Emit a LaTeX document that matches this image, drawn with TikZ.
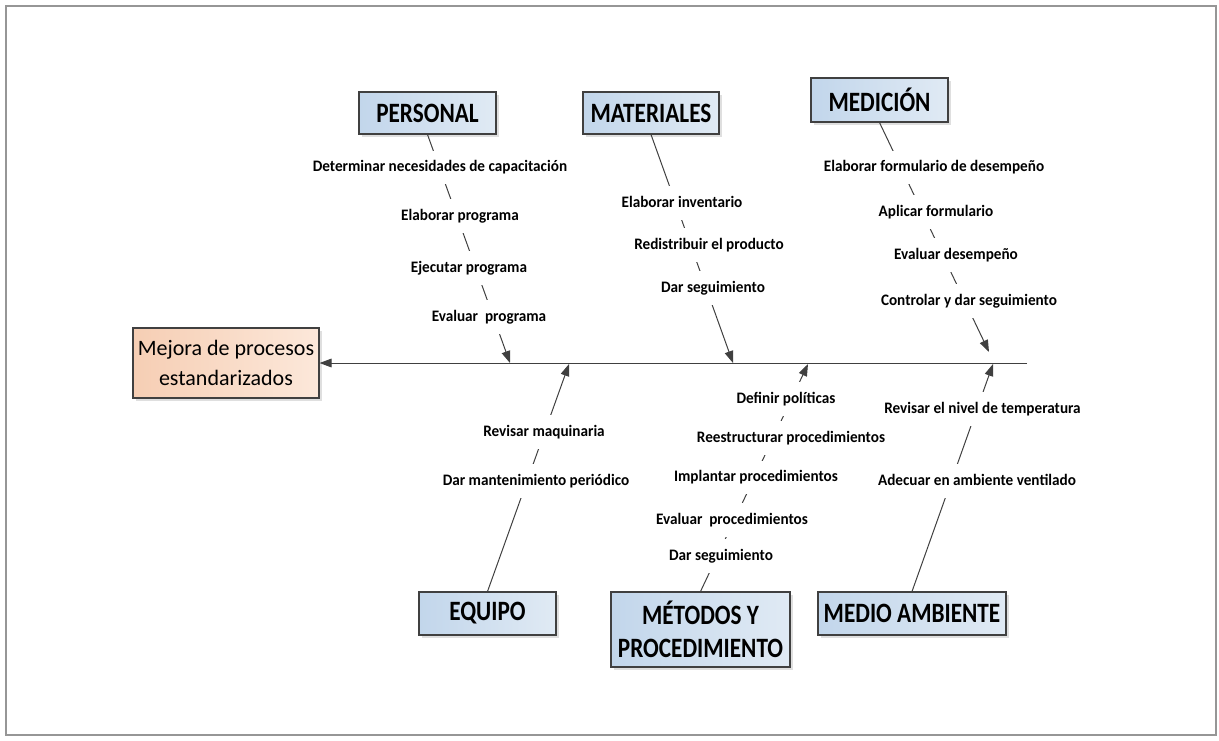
\documentclass[tikz,border=0pt]{standalone}
\usepackage{fontspec}
\setmainfont{Carlito}
\newfontfamily\titlefont[FakeStretch=0.83]{Carlito}
\newfontfamily\lblfont[FakeStretch=0.95]{Carlito}
\usetikzlibrary{arrows.meta,shadows}
\definecolor{boxL}{RGB}{194,214,235}
\definecolor{boxR}{RGB}{224,234,244}
\definecolor{headL}{RGB}{246,206,180}
\definecolor{headR}{RGB}{252,232,218}
\definecolor{ln}{RGB}{64,64,64}
\definecolor{framec}{RGB}{150,150,150}
\begin{document}
\begin{tikzpicture}[x=0.75pt,y=-0.75pt,
  catbox/.style={draw=ln, line width=0.8pt, left color=boxL, right color=boxR,
    drop shadow={shadow xshift=2pt,shadow yshift=-2pt,fill=black!25,opacity=0.5},
    font=\titlefont\bfseries\fontsize{21}{24.75}\selectfont, align=center, inner sep=0pt},
  headbox/.style={draw=ln, line width=0.8pt, left color=headL, right color=headR,
    drop shadow={shadow xshift=2pt,shadow yshift=-2pt,fill=black!25,opacity=0.5},
    font=\fontsize{16.5}{22.5}\selectfont, align=center, inner sep=0pt},
  lbl/.style={fill=white, inner xsep=1pt, inner ysep=7pt, text height=8.5pt, text depth=2.5pt,
    font=\lblfont\bfseries\fontsize{12}{14}\selectfont},
  bone/.style={draw=ln, line width=0.75pt, -{Triangle[length=9pt,width=6.5pt]}}
]
\useasboundingbox (0,0) rectangle (1219,740);
\draw[framec, line width=1.5pt] (6,6) rectangle (1216,735);

% head and category boxes
\node[headbox, minimum width=139.5pt, minimum height=52.5pt] (head) at (226,363) {Mejora de procesos\\estandarizados};
\node[catbox, minimum width=102.75pt, minimum height=31.5pt] (pers) at (427.5,113) {PERSONAL};
\node[catbox, minimum width=102pt, minimum height=31.5pt] (mat) at (651,113) {MATERIALES};
\node[catbox, minimum width=102.75pt, minimum height=33pt] (med) at (879.5,100) {MEDICIÓN};
\node[catbox, minimum width=102.75pt, minimum height=32.25pt] (equ) at (487.5,613.5) {EQUIPO};
\node[catbox, minimum width=134.25pt, minimum height=56.25pt] (met) at (700.5,629.5) {MÉTODOS Y\\PROCEDIMIENTO};
\node[catbox, minimum width=141pt, minimum height=32.25pt] (amb) at (912,613.5) {MEDIO AMBIENTE};

% spine and bone ends
\coordinate (spR) at (1027,363);
\coordinate (tP) at (510,363);
\coordinate (tM) at (733,363);
\coordinate (tD) at (989,352);
\coordinate (tE) at (569,364);
\coordinate (tT) at (808,364);
\coordinate (tA) at (993,364);

\draw[bone] (spR) -- (head.east);
\draw[bone] (pers.south) -- (tP);
\draw[bone] (mat.south) -- (tM);
\draw[bone] (med.south) -- (tD);
\draw[bone] (equ.north) -- (tE);
\draw[bone] (met.north) -- (tT);
\draw[bone] (amb.north) -- (tA);

% labels
\node[lbl] (p1) at (440,167.5) {Determinar necesidades de capacitación};
\node[lbl] (p2) at (460,216) {Elaborar programa};
\node[lbl] (p3) at (469,268) {Ejecutar programa};
\node[lbl] (p4) at (489,317) {Evaluar\ \ programa};

\node[lbl] (m1) at (682,203) {Elaborar inventario};
\node[lbl] (m2) at (709,245) {Redistribuir el producto};
\node[lbl] (m3) at (713,288) {Dar seguimiento};

\node[lbl] (d1) at (934,167.5) {Elaborar formulario de desempeño};
\node[lbl] (d2) at (936,212) {Aplicar formulario};
\node[lbl] (d3) at (956,255) {Evaluar desempeño};
\node[lbl] (d4) at (969,301) {Controlar y dar seguimiento};

\node[lbl] (e1) at (544,432) {Revisar maquinaria};
\node[lbl] (e2) at (536,481) {Dar mantenimiento periódico};

\node[lbl] (t1) at (786,399) {Definir políticas};
\node[lbl] (t2) at (791,438) {Reestructurar procedimientos};
\node[lbl] (t3) at (756,477.5) {Implantar procedimientos};
\node[lbl] (t4) at (732,520) {Evaluar\ \ procedimientos};
\node[lbl] (t5) at (721,556) {Dar seguimiento};

\node[lbl] (a1) at (982.5,409) {Revisar el nivel de temperatura};
\node[lbl] (a2) at (977,481) {Adecuar en ambiente ventilado};
\end{tikzpicture}
\end{document}
